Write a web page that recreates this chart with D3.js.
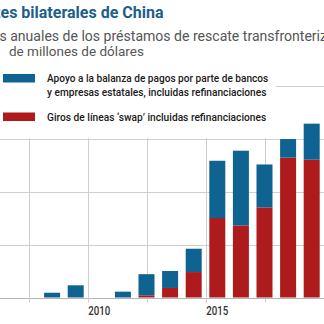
<!DOCTYPE html>
<html>
<head>
<meta charset="utf-8">
<script src="https://cdn.jsdelivr.net/npm/d3@7"></script>
<style>
  html, body { margin: 0; padding: 0; background: #fff; }
  svg { display: block; }
</style>
</head>
<body>
<div id="chart"></div>
<script>
// Annual bilateral rescue lending, billions of dollars
const years = [2008, 2009, 2010, 2011, 2012, 2013, 2014, 2015, 2016, 2017, 2018, 2019];
const swapDrawings = [0, 0, 0, 0, 0.4, 1.8, 4.8, 15.0, 13.6, 17.0, 26.4, 26.0];
const bopSupport = [0.9, 2.3, 0, 1.1, 4.0, 3.2, 4.4, 10.8, 14.1, 8.1, 3.5, 6.8];
const yTicks = [0, 10, 20, 30, 40];
const xGrid = [2007.5, 2010, 2012.5, 2015, 2017.5, 2020];
const xLabels = [2010, 2015];
const seriesNames = [
  ["Apoyo a la balanza de pagos por parte de bancos", "y empresas estatales, incluidas refinanciaciones"],
  ["Giros de líneas ‘swap’ incluidas refinanciaciones"]
];

const width = 324, height = 324;
const blue = "#0f6390", red = "#ae1b1c";
const condensed = "Roboto, 'DejaVu Sans', sans-serif";

const svg = d3.select("#chart").append("svg")
  .attr("width", width)
  .attr("height", height);

const x = d3.scaleLinear().domain([2010, 2015]).range([87.5, 205.5]);
const y = d3.scaleLinear().domain([0, 40]).range([297.5, 85.5]);
const barW = 16;

const rows = years.map((yr, i) => ({ year: yr, swap: swapDrawings[i], bop: bopSupport[i] }));
const stacked = d3.stack().keys(["swap", "bop"])(rows);

// squeeze a text horizontally to a given width (condensed look)
function squeeze(sel, targetW) {
  sel.each(function(d) {
    const node = this;
    const w = typeof targetW === "function" ? targetW(d) : targetW;
    const sx = w / node.getComputedTextLength();
    const tx = +node.getAttribute("x"), ty = +node.getAttribute("y");
    node.setAttribute("x", 0);
    node.setAttribute("y", 0);
    node.setAttribute("transform", `translate(${tx},${ty}) scale(${sx},1)`);
  });
}

// grid
svg.append("g").selectAll("line")
  .data(yTicks)
  .join("line")
  .attr("x1", 0).attr("x2", width)
  .attr("y1", d => Math.round(y(d)) + 0.5)
  .attr("y2", d => Math.round(y(d)) + 0.5)
  .attr("stroke", d => d === 0 ? "#b5b5b5" : "#cfcfcf")
  .attr("stroke-width", 1);

svg.append("g").selectAll("line")
  .data(xGrid)
  .join("line")
  .attr("x1", d => Math.round(x(d)) + 0.5)
  .attr("x2", d => Math.round(x(d)) + 0.5)
  .attr("y1", y(40))
  .attr("y2", y(0) + 5)
  .attr("stroke", "#cfcfcf")
  .attr("stroke-width", 1);

// bars
svg.append("g").selectAll("g")
  .data(stacked)
  .join("g")
  .attr("fill", d => d.key === "swap" ? red : blue)
  .selectAll("rect")
  .data(d => d.filter(p => p[1] - p[0] > 0))
  .join("rect")
  .attr("x", d => x(d.data.year + 0.5) - barW / 2)
  .attr("width", barW)
  .attr("y", d => y(d[1]))
  .attr("height", d => y(d[0]) - y(d[1]));

// x labels
svg.append("g").selectAll("text")
  .data(xLabels)
  .join("text")
  .attr("x", d => x(d + 0.5))
  .attr("y", 315)
  .attr("text-anchor", "middle")
  .attr("font-family", condensed)
  .attr("font-weight", 500)
  .attr("font-size", 12)
  .attr("fill", "#333")
  .text(d => d)
  .call(squeeze, 22);

// legend panel
svg.append("rect")
  .attr("x", 0).attr("y", 0)
  .attr("width", 276).attr("height", 138)
  .attr("fill", "#fff");

const legend = svg.append("g");
const swatchY = [74, 112.5];
legend.selectAll("rect")
  .data([blue, red])
  .join("rect")
  .attr("x", 3).attr("width", 32)
  .attr("y", (d, i) => swatchY[i]).attr("height", 8.5)
  .attr("fill", d => d);

const legendLines = [
  { t: seriesNames[0][0], y: 81.5, w: 221.5 },
  { t: seriesNames[0][1], y: 95.5, w: 219.5 },
  { t: seriesNames[1][0], y: 120.5, w: 219.5 }
];
legend.selectAll("text")
  .data(legendLines)
  .join("text")
  .attr("x", 47)
  .attr("y", d => d.y)
  .attr("font-family", condensed)
  .attr("font-weight", 500)
  .attr("font-size", 11.8)
  .attr("fill", "#1a1a1a")
  .text(d => d.t)
  .call(squeeze, d => d.w);

// title and subtitle: size the shown run to a width, then shift the line
// so the shown run starts at visibleX (the rest runs off the left/right edge)
function placeText(prefix, shown, suffix, visibleX, shownWidth, yPos, attrs) {
  const t = svg.append("text").attr("y", yPos);
  Object.entries(attrs).forEach(([k, v]) => t.attr(k, v));
  const base = +attrs["font-size"];
  const probe = t.clone().text(shown);
  const size = base * shownWidth / probe.node().getComputedTextLength();
  t.attr("font-size", size);
  probe.attr("font-size", size).text(prefix);
  const w = prefix ? probe.node().getComputedTextLength() : 0;
  probe.remove();
  t.attr("x", visibleX - w).text(prefix + shown + suffix);
  return t;
}

placeText("Rescat", "es bilaterales de China", "", 0.5, 163, 17.5,
  { "font-family": "Roboto, sans-serif", "font-weight": 700, "font-size": 15, "fill": "#1d5e8c" });
placeText("Volúmenes ", "anuales de los préstamos de rescate transfronteriz", "os,", 6.7, 317.3, 40.5,
  { "font-family": "Roboto, sans-serif", "font-size": 13, "fill": "#555" });
placeText("", "de millones de dólares", "", 9, 135, 55.5,
  { "font-family": "Roboto, sans-serif", "font-size": 13, "fill": "#555" });
</script>
</body>
</html>
